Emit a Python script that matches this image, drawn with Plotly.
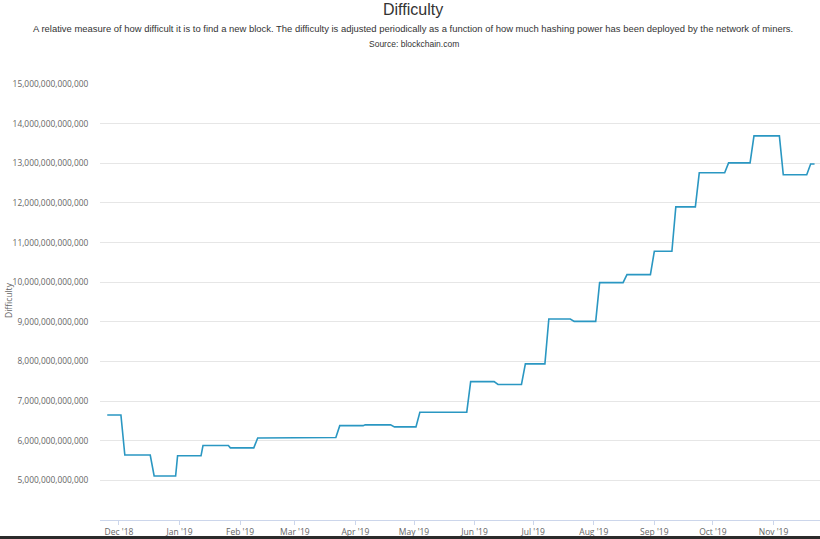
import plotly.graph_objects as go

# ---- data ----
dates = [
    "2018-11-25", "2018-12-02", "2018-12-04", "2018-12-17", "2018-12-19",
    "2018-12-30", "2018-12-31", "2019-01-12", "2019-01-13", "2019-01-26",
    "2019-01-27", "2019-02-08", "2019-02-10", "2019-02-22", "2019-02-24",
    "2019-03-22", "2019-03-24", "2019-04-05", "2019-04-06", "2019-04-19",
    "2019-04-21", "2019-05-02", "2019-05-04", "2019-05-28", "2019-05-30",
    "2019-06-11", "2019-06-13", "2019-06-25", "2019-06-27", "2019-07-07",
    "2019-07-09", "2019-07-20", "2019-07-22", "2019-08-02", "2019-08-04",
    "2019-08-16", "2019-08-18", "2019-08-30", "2019-09-01", "2019-09-10",
    "2019-09-12", "2019-09-22", "2019-09-24", "2019-10-07", "2019-10-09",
    "2019-10-20", "2019-10-22", "2019-11-04", "2019-11-06", "2019-11-18",
    "2019-11-20", "2019-11-22",
]
difficulty = [
    6.65e12, 6.65e12, 5.64e12, 5.64e12, 5.11e12,
    5.11e12, 5.62e12, 5.62e12, 5.88e12, 5.88e12,
    5.82e12, 5.82e12, 6.07e12, 6.07e12, 6.08e12,
    6.08e12, 6.38e12, 6.38e12, 6.40e12, 6.40e12,
    6.35e12, 6.35e12, 6.72e12, 6.72e12, 7.49e12,
    7.49e12, 7.42e12, 7.42e12, 7.94e12, 7.94e12,
    9.07e12, 9.07e12, 9.01e12, 9.01e12, 9.99e12,
    9.99e12, 10.19e12, 10.19e12, 10.78e12, 10.78e12,
    11.90e12, 11.90e12, 12.76e12, 12.76e12, 13.01e12,
    13.01e12, 13.69e12, 13.69e12, 12.71e12, 12.71e12,
    12.98e12, 12.98e12,
]
y_tick_values = [5e12, 6e12, 7e12, 8e12, 9e12, 10e12, 11e12, 12e12, 13e12, 14e12, 15e12]
y_tick_labels = [f"{int(v):,}" for v in y_tick_values]

title_text = "Difficulty"
subtitle_text = ("A relative measure of how difficult it is to find a new block. The difficulty is adjusted "
                 "periodically as a function of how much hashing power has been deployed by the network of miners.")
source_text = "Source: blockchain.com"
y_axis_title = "Difficulty"

# ---- figure (body margin removed by post_script so figure fills the window) ----
W, H = 820, 539
ML, MR, MT, MB = 100, 0, 84, 19
PW, PH = W - ML - MR, H - MT - MB

def py(p):  # page pixel y -> paper
    return (H - MB - p) / PH

def px(p):  # page pixel x -> paper
    return (p - ML) / PW

fig = go.Figure()
fig.add_trace(go.Scatter(
    x=dates, y=difficulty, mode="lines",
    line=dict(color="#2a97c2", width=1.6),
    hoverinfo="skip", showlegend=False, cliponaxis=True,
))

fig.update_layout(
    width=W, height=H,
    margin=dict(l=ML, r=MR, t=MT, b=MB, pad=0, autoexpand=False),
    paper_bgcolor="white", plot_bgcolor="white",
    font=dict(family="Liberation Sans, Arial, sans-serif", color="#333333"),
    xaxis=dict(
        type="date", automargin=False,
        range=["2018-11-21 07:00", "2019-11-24 19:00"],
        tick0="2018-12-01", dtick="M1", tickformat="%b '%y",
        ticks="outside", ticklen=4, tickcolor="#ccd6eb", tickwidth=1,
        showline=True, linecolor="#ccd6eb", linewidth=1,
        showgrid=False, zeroline=False,
        tickfont=dict(family="Open Sans, sans-serif", size=8.5, color="#666666"),
    ),
    yaxis=dict(
        range=[4e12, 15e12], automargin=False,
        tickvals=y_tick_values, ticktext=y_tick_labels,
        showgrid=True, gridcolor="#e6e6e6", gridwidth=1,
        zeroline=False, showline=False,
        ticks="outside", ticklen=9, tickcolor="rgba(0,0,0,0)",
        tickfont=dict(family="Open Sans, sans-serif", size=8.4, color="#666666"),
    ),
    annotations=[
        dict(text=title_text, x=px(413), xref="paper", y=py(9), yref="paper",
             xanchor="center", yanchor="middle", showarrow=False,
             font=dict(family="Liberation Sans, Arial, sans-serif", size=16, color="#333333")),
        dict(text=subtitle_text, x=px(413), xref="paper", y=py(28), yref="paper",
             xanchor="center", yanchor="middle", showarrow=False,
             font=dict(family="Liberation Sans, Arial, sans-serif", size=9.45, color="#333333")),
        dict(text=source_text, x=px(414), xref="paper", y=py(44), yref="paper",
             xanchor="center", yanchor="middle", showarrow=False,
             font=dict(family="Liberation Sans, Arial, sans-serif", size=8.5, color="#333333")),
        dict(text=y_axis_title, x=px(8), xref="paper", y=py(300), yref="paper",
             xanchor="center", yanchor="middle", showarrow=False, textangle=-90,
             font=dict(family="Open Sans, sans-serif", size=8.5, color="#666666")),
    ],
    shapes=[
        dict(type="rect", xref="paper", yref="paper", x0=px(-10), x1=px(830), y0=py(545), y1=py(536),
             fillcolor="#2b2b2b", line=dict(width=0), layer="above"),
    ],
)

fig.write_html(
    "out.html",
    config={"displayModeBar": False},
    post_script="document.documentElement.style.margin='0';document.body.style.margin='0';"
                "document.body.style.overflow='hidden';",
)
